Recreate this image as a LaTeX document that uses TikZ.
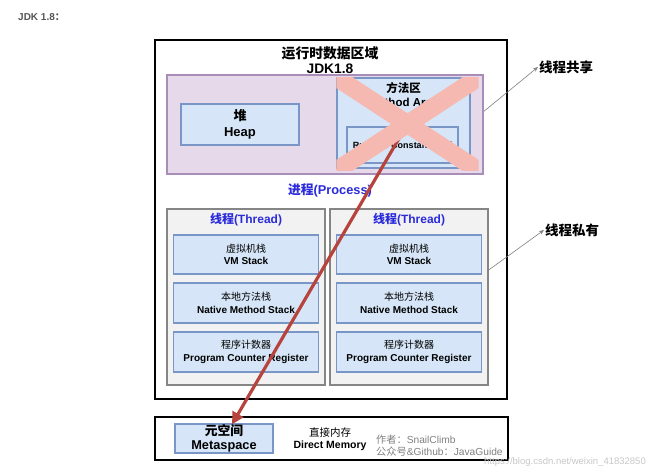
\documentclass[tikz,border=0pt]{standalone}
\usepackage{fontspec}
\setmainfont{Liberation Sans}
\newfontfamily\cjk{Noto Sans CJK SC}
\usetikzlibrary{positioning,arrows.meta,calc}
\definecolor{sharedfill}{HTML}{E6D9EA}
\definecolor{sharedline}{HTML}{A88DB8}
\definecolor{boxfill}{HTML}{D6E6F8}
\definecolor{boxline}{HTML}{7A96C6}
\definecolor{threadfill}{HTML}{F2F2F2}
\definecolor{threadline}{HTML}{858585}
\definecolor{procblue}{HTML}{2B2BDB}
\definecolor{crosspink}{HTML}{F5B9B1}
\definecolor{arrowred}{HTML}{B7443C}
\definecolor{notegray}{HTML}{555555}

\tikzset{
	areabox/.style = {draw = black, line width = 1.5pt, inner sep = 0pt},
	sharedbox/.style = {draw = sharedline, fill = sharedfill, line width = 1.4pt, inner sep = 0pt},
	threadbox/.style = {draw = threadline, fill = threadfill, line width = 1.3pt, inner sep = 0pt},
	membox/.style = {draw = boxline, fill = boxfill, line width = 1.3pt, inner sep = 0pt, align = center,
		font = \bfseries\fontsize{10}{12.5}\selectfont},
	bigtext/.style = {align = center, inner sep = 0pt, font = \bfseries\fontsize{12.5}{15}\selectfont},
	bluetext/.style = {text = procblue, inner sep = 0pt, font = \bfseries\fontsize{12}{14}\selectfont},
	sidelabel/.style = {anchor = west, inner sep = 1pt, font = \cjk\bfseries\fontsize{13.5}{15}\selectfont},
	pointer/.style = {draw = gray, line width = .6pt, -{Stealth[length = 5pt, width = 4pt]}},
	cross/.style = {draw = crosspink, line width = 18pt},
	redarrow/.style = {draw = arrowred, line width = 3.2pt, -{Triangle[length = 12pt, width = 12pt]}}
}

\begin{document}
\begin{tikzpicture}[x = 1pt, y = -1pt]
	\useasboundingbox (0,0) rectangle (650,470);
	\node [anchor = west, text = notegray, inner sep = 0pt, font = \bfseries\fontsize{10}{12}\selectfont] (caption) at (18,17) {JDK 1.8{\cjk ：}};

	% runtime data area
	\node [areabox, minimum width = 352pt, minimum height = 359pt] (rda) at (331,219.5) {};
	\node [bigtext, font = \bfseries\fontsize{13.8}{15.5}\selectfont] (title) at (330,60) {{\cjk 运行时数据区域}\\JDK1.8};

	% shared by all threads
	\node [sharedbox, minimum width = 316pt, minimum height = 99pt] (shared) at (325,124.5) {};
	\node [membox, minimum width = 118pt, minimum height = 41pt, font = \bfseries\fontsize{13}{15.5}\selectfont] (heap) at (240,124.5) {{\cjk 堆}\\Heap};
	\node [membox, minimum width = 133pt, minimum height = 90pt] (method) at (403.5,123) {};
	\node [bigtext, font = \bfseries\fontsize{11.5}{13.5}\selectfont, below = 5pt of method.north] (methodtext) {{\cjk 方法区}\\Method Area};
	\node [membox, minimum width = 111pt, minimum height = 36pt, font = \bfseries\fontsize{9}{10}\selectfont] (pool) at (402.5,145) {Runtime Constant Pool};

	\node [bluetext, font = \bfseries\fontsize{12.8}{14}\selectfont] (process) at (330,190) {{\cjk 进程}(Process)};

	% one block per thread
	\foreach \side/\cx in {L/246, R/409}
	{
		\node [threadbox, minimum width = 158pt, minimum height = 176pt] (th\side) at (\cx,297) {};
		\node [bluetext] (thlabel\side) at (\cx,220) {{\cjk 线程}(Thread)};
		\node [membox, minimum width = 145pt, minimum height = 39pt] (vm\side) at (\cx,254.5) {{\cjk\mdseries 虚拟机栈}\\VM Stack};
		\node [membox, minimum width = 145pt, minimum height = 40pt] (native\side) at (\cx,303) {{\cjk\mdseries 本地方法栈}\\Native Method Stack};
		\node [membox, minimum width = 145pt, minimum height = 40pt] (pc\side) at (\cx,352) {{\cjk\mdseries 程序计数器}\\Program Counter Register};
	}

	% direct memory
	\node [areabox, minimum width = 353pt, minimum height = 43pt] (direct) at (331.5,438.5) {};
	\node [membox, minimum width = 98pt, minimum height = 29pt, font = \bfseries\fontsize{12.8}{14}\selectfont] (meta) at (224,438.5) {{\cjk 元空间}\\Metaspace};
	\node [align = center, inner sep = 0pt, font = \bfseries\fontsize{10.5}{12.5}\selectfont] (directtext) at (330,439) {{\cjk\mdseries 直接内存}\\Direct Memory};
	\node [anchor = west, align = left, text = gray, inner sep = 0pt, font = \fontsize{10.2}{12}\selectfont] (author) at (376,446) {{\cjk 作者：}SnailClimb\\{\cjk 公众号}\&Github{\cjk ：}JavaGuide};
	\node [anchor = east, text = black!22, inner sep = 0pt, font = \fontsize{9.5}{10}\selectfont] (mark) at (646,462) {https://blog.csdn.net/weixin\_41832850};

	% metaspace replaces the method area
	\draw [redarrow] ([xshift = 4.5pt]method.center) -- ([xshift = 8pt, yshift = -1pt]meta.north);
	\coordinate (xtl) at (method.north west);
	\coordinate (xbr) at ([xshift = 8pt, yshift = -2pt]method.south east);
	\coordinate (xtr) at ([xshift = 8pt]method.north east);
	\coordinate (xbl) at ([yshift = -2pt]method.south west);
	\begin{scope}
		\clip (xtl) rectangle (xbr);
		\draw [cross] ($(xtl)!-.3!(xbr)$) -- ($(xbr)!-.3!(xtl)$);
		\draw [cross] ($(xtr)!-.3!(xbl)$) -- ($(xbl)!-.3!(xtr)$);
	\end{scope}

	% side notes
	\node [sidelabel] (sharednote) at (538,67) {线程共享};
	\node [sidelabel] (privatenote) at (544,230) {线程私有};
	\draw [pointer] ([yshift = 13pt]shared.east) -- (sharednote.west);
	\draw [pointer] ([yshift = 27pt]thR.east) -- (privatenote.west);
\end{tikzpicture}
\end{document}
